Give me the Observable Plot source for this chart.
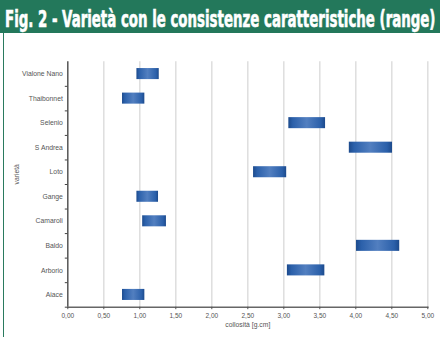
<!DOCTYPE html>
<html>
<head>
<meta charset="utf-8">
<script src="https://cdn.jsdelivr.net/npm/d3@7"></script>
<script src="https://cdn.jsdelivr.net/npm/@observablehq/plot@0.6"></script>
<style>
  html, body { margin: 0; padding: 0; background: #fff; }
  #wrap { position: relative; width: 440px; height: 337px; overflow: hidden; }
  #border { position: absolute; left: 2.5px; top: 33px; width: 1.5px; height: 304px; background: #2a7a5e; }
  #chart { position: absolute; left: 0; top: 33px; }
  #title { display: block; }
</style>
</head>
<body>
<div id="wrap">
  <svg id="title" width="440" height="33">
    <rect x="0" y="0" width="440" height="33" fill="#23785b"></rect>
    <text id="titleText" x="0" y="0" fill="#fff" stroke="#fff" stroke-width="0.4" font-family="'Liberation Sans Narrow','DejaVu Sans Condensed','Liberation Sans',sans-serif" font-weight="bold" font-size="16">Fig. 2 - Varietà con le consistenze caratteristiche (range)</text>
  </svg>
  <div id="border"></div>
  <div id="chart"></div>
</div>
<script>
const varieties = ["Vialone Nano", "Thaibonnet", "Selenio", "S Andrea", "Loto", "Gange", "Camaroli", "Baldo", "Arborio", "Aiace"];
const minValues = [0.96, 0.76, 3.07, 3.91, 2.58, 0.96, 1.04, 4.01, 3.05, 0.76];
const maxValues = [1.27, 1.07, 3.58, 4.51, 3.04, 1.26, 1.37, 4.61, 3.57, 1.07];
const xTicks = [0, 0.5, 1, 1.5, 2, 2.5, 3, 3.5, 4, 4.5, 5];
const xLabel = "collosità [g.cm]";
const yLabel = "varietà";

// fit the title: natural width -> 431px, then stretch vertically to the reference height
(function fitTitle() {
  const t = document.getElementById("titleText");
  const targetW = 431, baseSize = 16, targetSize = 22.5;
  const w = t.getComputedTextLength();
  const size = baseSize * targetW / w;
  t.setAttribute("font-size", size.toFixed(2));
  const sy = targetSize / size;
  t.setAttribute("transform", `translate(5,26.5) scale(1,${sy.toFixed(3)})`);
})();

const data = varieties.map((v, i) => ({variety: v, min: minValues[i], max: maxValues[i]}));
const fmt = d => d.toFixed(2).replace(".", ",");

const plot = Plot.plot({
  width: 440,
  height: 304,
  marginLeft: 67.3,
  marginRight: 12.7,
  marginTop: 28.3,
  marginBottom: 30.3,
  style: {fontFamily: "'Liberation Sans', Arial, sans-serif", fontSize: "7px", color: "#555", background: "transparent"},
  x: {domain: [0, 5]},
  y: {domain: varieties, paddingInner: 0.55, paddingOuter: 0.275, round: false},
  marks: [
    () => {
      const svg = d3.create("svg:defs");
      const g = svg.append("linearGradient").attr("id", "barGrad").attr("x1", "0").attr("x2", "1").attr("y1", "0").attr("y2", "0");
      g.append("stop").attr("offset", "0%").attr("stop-color", "#1c4a8c");
      g.append("stop").attr("offset", "12%").attr("stop-color", "#2b60aa");
      g.append("stop").attr("offset", "50%").attr("stop-color", "#527fc0");
      g.append("stop").attr("offset", "88%").attr("stop-color", "#2b60aa");
      g.append("stop").attr("offset", "100%").attr("stop-color", "#1c4a8c");
      return svg.node();
    },
    Plot.gridX(xTicks.filter(d => d > 0), {stroke: "#dedede", strokeOpacity: 1, strokeWidth: 1.5}),
    Plot.barX(data, {x1: "min", x2: "max", y: "variety", fill: "url(#barGrad)"}),
    Plot.ruleX([0], {stroke: "#555", strokeWidth: 1.5}),
    Plot.frame({anchor: "bottom", stroke: "#666", strokeWidth: 1.5}),
    Plot.axisX({ticks: xTicks, tickFormat: fmt, tickSize: 2.5, tickPadding: 4, stroke: "#555", fill: "#555", fontSize: 6.5, label: null}),
    Plot.text([xLabel], {frameAnchor: "bottom", dy: 20, fill: "#555", fontSize: 6.8}),
    Plot.axisY({tickSize: 0, tickPadding: 5, fill: "#555", label: null, fontSize: 6.8}),
    Plot.axisY({text: null, tickSize: 2.5, dy: 12.27, stroke: "#444", label: null}),
    Plot.text([yLabel], {frameAnchor: "left", dx: -51, rotate: -90, fill: "#555", fontSize: 6.8})
  ]
});
document.getElementById("chart").appendChild(plot);
</script>
</body>
</html>
